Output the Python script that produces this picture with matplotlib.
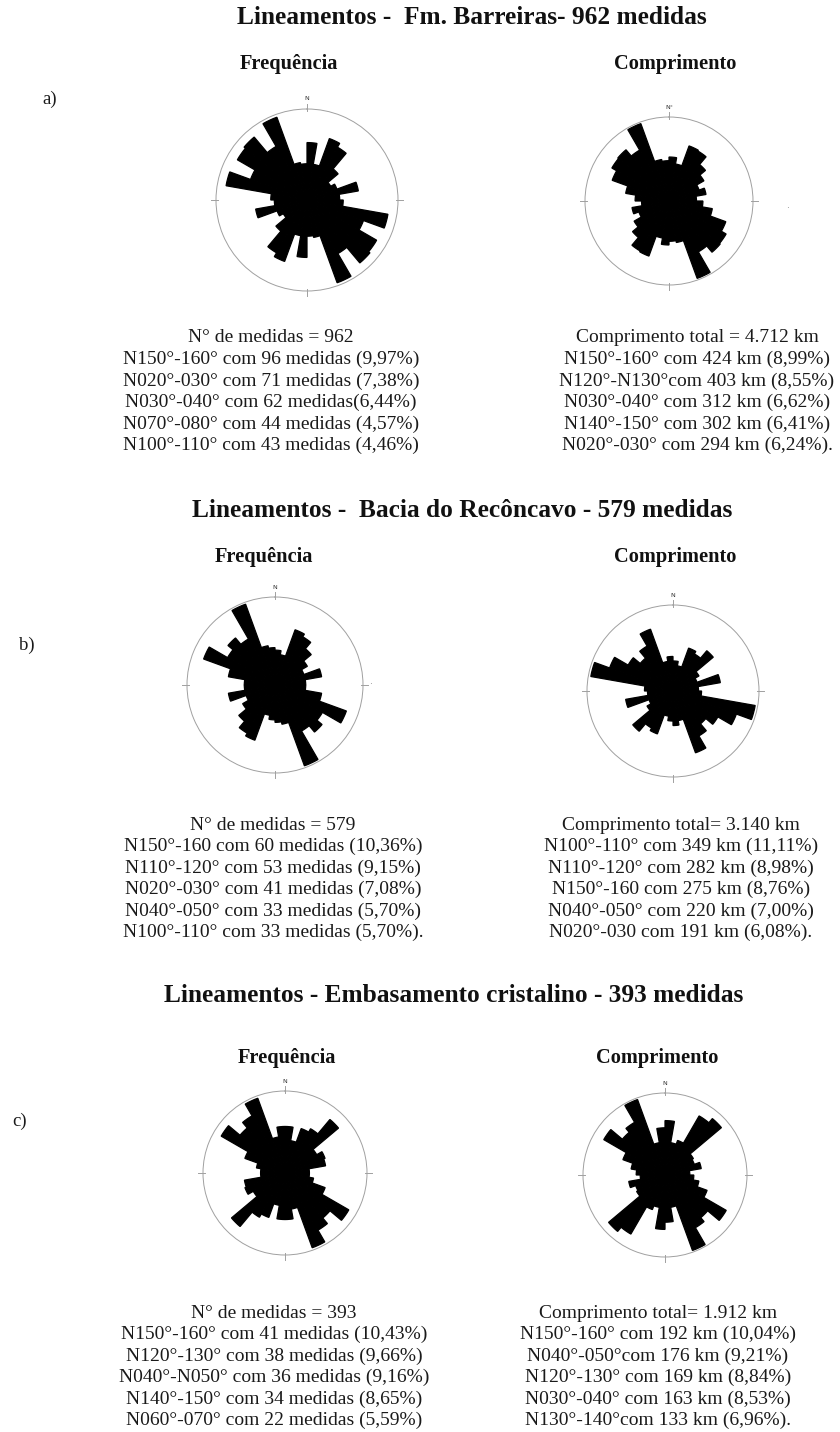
import numpy as np
import matplotlib
matplotlib.use("Agg")
import matplotlib.pyplot as plt

plt.rcParams['font.family'] = ['Liberation Serif', 'DejaVu Serif']

# ---------------- data ----------------
bin_start = list(range(0, 180, 10))   # azimuth bins (deg), axial data mirrored +180

# percentages per 10-degree bin
freq_a = [6.5, 4.1, 7.4, 6.9, 4.6, 3.1, 3.6, 5.9, 3.7, 4.1, 9.3, 6.8, 9.1, 9.3, 7.0, 9.97, 4.3, 4.1]
comp_a = [4.8, 4.1, 6.4, 6.3, 5.2, 4.4, 3.5, 4.1, 3.0, 3.7, 4.8, 6.6, 7.2, 7.3, 6.41, 8.99, 4.6, 4.4]
freq_b = [4.2, 3.7, 7.08, 6.7, 5.7, 4.5, 3.7, 5.7, 3.7, 3.7, 5.7, 9.15, 6.6, 7.4, 6.4, 10.36, 4.8, 4.5]
comp_b = [4.0, 3.4, 6.08, 5.7, 7.0, 4.0, 3.4, 6.4, 3.4, 3.8, 11.11, 8.98, 6.9, 5.7, 6.9, 8.76, 4.0, 4.6]
freq_c = [6.1, 4.3, 6.2, 6.7, 9.16, 4.8, 5.59, 5.4, 3.2, 3.2, 3.8, 5.6, 9.66, 7.7, 8.65, 10.43, 4.8, 6.1]
comp_c = [6.8, 4.1, 4.6, 8.53, 9.21, 4.1, 3.9, 4.6, 3.1, 3.6, 4.3, 5.6, 8.84, 6.96, 7.6, 10.04, 4.1, 5.9]

# outer circle value of each rose (%)
ring_a = [10.3, 9.17]
ring_b = [10.6, 11.45]
ring_c = [10.75, 10.25]

titles = ["Lineamentos -  Fm. Barreiras- 962 medidas",
          "Lineamentos -  Bacia do Recôncavo - 579 medidas",
          "Lineamentos - Embasamento cristalino - 393 medidas"]
row_labels = ["a)", "b)", "c)"]
sub_titles = ["Frequência", "Comprimento"]

text_a_left = ["N° de medidas = 962",
               "N150°-160° com 96 medidas (9,97%)",
               "N020°-030° com 71 medidas (7,38%)",
               "N030°-040° com 62 medidas(6,44%)",
               "N070°-080° com 44 medidas (4,57%)",
               "N100°-110° com 43 medidas (4,46%)"]
text_a_right = ["Comprimento total = 4.712 km",
                "N150°-160° com 424 km (8,99%)",
                "N120°-N130°com 403 km (8,55%)",
                "N030°-040° com 312 km (6,62%)",
                "N140°-150° com 302 km (6,41%)",
                "N020°-030° com 294 km (6,24%)."]
text_b_left = ["N° de medidas = 579",
               "N150°-160 com 60 medidas (10,36%)",
               "N110°-120° com 53 medidas (9,15%)",
               "N020°-030° com 41 medidas (7,08%)",
               "N040°-050° com 33 medidas (5,70%)",
               "N100°-110° com 33 medidas (5,70%)."]
text_b_right = ["Comprimento total= 3.140 km",
                "N100°-110° com 349 km (11,11%)",
                "N110°-120° com 282 km (8,98%)",
                "N150°-160 com 275 km (8,76%)",
                "N040°-050° com 220 km (7,00%)",
                "N020°-030 com 191 km (6,08%)."]
text_c_left = ["N° de medidas = 393",
               "N150°-160° com 41 medidas (10,43%)",
               "N120°-130° com 38 medidas (9,66%)",
               "N040°-N050° com 36 medidas (9,16%)",
               "N140°-150° com 34 medidas (8,65%)",
               "N060°-070° com 22 medidas (5,59%)"]
text_c_right = ["Comprimento total= 1.912 km",
                "N150°-160° com 192 km (10,04%)",
                "N040°-050°com 176 km (9,21%)",
                "N120°-130° com 169 km (8,84%)",
                "N030°-040° com 163 km (8,53%)",
                "N130°-140°com 133 km (6,96%)."]

# ---------------- layout ----------------
W, H = 840, 1432
fig = plt.figure(figsize=(W / 100, H / 100), dpi=100)
fig.patch.set_facecolor('white')


def fx(x):
    return x / W


def fy(y):
    return 1 - y / H


def rose(cx, cy, R, values, rmax, nlabel="N"):
    ax = fig.add_axes([(cx - R) / W, (H - cy - R) / H, 2 * R / W, 2 * R / H],
                      projection='polar')
    ax.set_theta_zero_location('N')
    ax.set_theta_direction(-1)
    starts = np.array(bin_start, dtype=float)
    theta = np.deg2rad(np.concatenate([starts, starts + 180]))
    vals = np.concatenate([values, values])
    ax.bar(theta, vals, width=np.deg2rad(10), align='edge',
           color='black', edgecolor='black', linewidth=0.9)
    ax.set_ylim(0, rmax)
    ax.set_xticks([])
    ax.set_yticks([])
    ax.grid(False)
    ax.spines['polar'].set_color('#a0a0a0')
    ax.spines['polar'].set_linewidth(0.7)
    for t in (0, 90, 180, 270):
        ax.plot([np.deg2rad(t)] * 2, [rmax * 0.98, rmax * 1.055],
                color='#a0a0a0', lw=0.7, clip_on=False)
    ax.text(0, rmax * 1.11, nlabel, ha='center', va='center',
            fontsize=4.5, color='#333333', family=['DejaVu Sans'])
    return ax


def block(x, y0, lines, dy=21.5):
    for i, s in enumerate(lines):
        fig.text(fx(x), fy(y0 + i * dy), s, ha='center', va='center',
                 fontsize=14, color='#1a1a1a')


# titles
title_pos = [(472, 17), (462, 510), (454, 995)]
for (x, y), t in zip(title_pos, titles):
    fig.text(fx(x), fy(y), t, ha='center', va='center', fontsize=18.3,
             fontweight='bold', color='#111111')

# row labels
label_pos = [(50, 99), (27, 645), (20, 1121)]
for (x, y), t in zip(label_pos, row_labels):
    fig.text(fx(x), fy(y), t, ha='center', va='center', fontsize=13.5,
             color='#1a1a1a')

# sub titles
sub_pos = [[(289, 64), (675, 64)], [(264, 557), (675, 557)], [(287, 1058), (657, 1058)]]
for row in sub_pos:
    for (x, y), t in zip(row, sub_titles):
        fig.text(fx(x), fy(y), t, ha='center', va='center', fontsize=14.7,
                 fontweight='bold', color='#111111')

# roses
rose(307, 200, 91, freq_a, ring_a[0], "N")
rose(669, 201, 84, comp_a, ring_a[1], "N°")
rose(275, 685, 88, freq_b, ring_b[0], "N")
rose(673, 691, 86, comp_b, ring_b[1], "N")
rose(285, 1173, 82, freq_c, ring_c[0], "N")
rose(665, 1175, 82, comp_c, ring_c[1], "N")

# stray marks of the original
fig.text(fx(787), fy(208), "·", ha='center', va='center', fontsize=6, color='#888888')
fig.text(fx(370), fy(684), "·", ha='center', va='center', fontsize=6, color='#888888')

# statistics text
block(271, 338, text_a_left)
block(697, 338, text_a_right)
block(273, 825, text_b_left)
block(681, 825, text_b_right)
block(274, 1313, text_c_left)
block(658, 1313, text_c_right)

fig.savefig("out.png", dpi=100, facecolor='white')
